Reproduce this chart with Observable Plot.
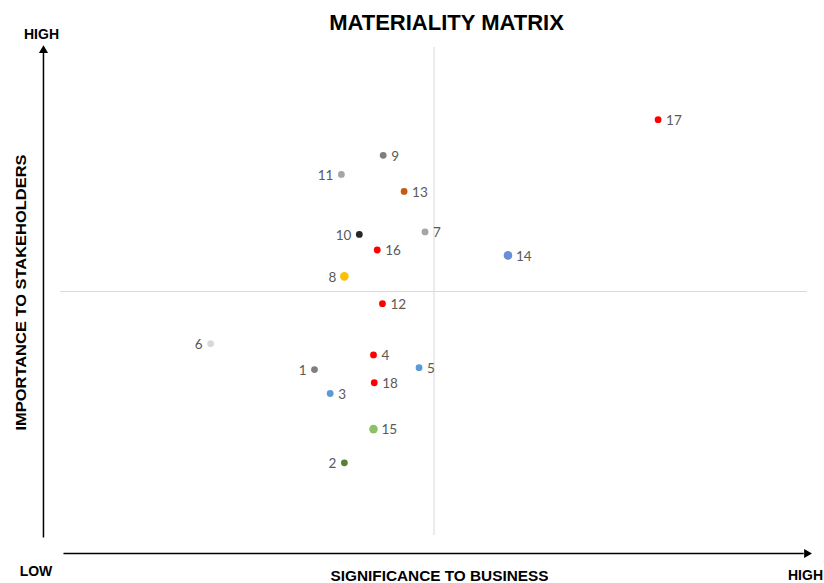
<!DOCTYPE html>
<html><head><meta charset="utf-8">
<script src="https://cdn.jsdelivr.net/npm/d3@7"></script>
<script src="https://cdn.jsdelivr.net/npm/@observablehq/plot@0.6"></script>
<style>body{margin:0;background:#fff}</style>
</head><body><div id="chart"></div>
<script>
// Issue ids
const ids = [1,2,3,4,5,6,7,8,9,10,11,12,13,14,15,16,17,18];
// Significance to business (x, 0–10)
const significance = [3.40,3.80,3.61,4.19,4.80,2.01,4.88,3.80,4.32,4.00,3.76,4.31,4.60,5.99,4.19,4.24,8.00,4.20];
// Importance to stakeholders (y, 0–10)
const importance = [3.40,1.49,2.91,3.70,3.44,3.93,6.22,5.31,7.79,6.17,7.40,4.75,7.05,5.74,2.18,5.85,8.52,3.13];
// Point colours
const colors = ["#7f7f7f","#548235","#5b9bd5","#ff0000","#5b9bd5","#d9d9d9","#a5a5a5","#ffc000","#7f7f7f","#262626","#a5a5a5","#ff0000","#c55a11","#6a8ed6","#8cc168","#ff0000","#ff0000","#ff0000"];
// Which side of the point the label sits on
const labelSides = ["L","L","R","R","R","L","R","L","R","L","L","R","R","R","R","R","R","R"];
const largeMarkers = [8,14,15];

const title = "MATERIALITY MATRIX";
const xTitle = "SIGNIFICANCE TO BUSINESS";
const yTitle = "IMPORTANCE TO STAKEHOLDERS";
const lowLabel = "LOW";
const highLabel = "HIGH";
const domain = [0, 10];
const midpoint = 5;

const data = ids.map((id, i) => ({
  id, x: significance[i], y: importance[i], color: colors[i],
  side: labelSides[i], r: largeMarkers.includes(id) ? 4.3 : 3.4
}));

const bold = {fontFamily: "Liberation Sans, Arial, sans-serif", fontWeight: "bold", fill: "#000",
  textAnchor: "middle", lineAnchor: "middle"};
const lo = domain[0], hi = domain[1];
const yArrowX = lo - 0.228, xArrowY = lo - 0.369;
const labelFont = {fontFamily: "Lato, Carlito, sans-serif", fontSize: 13.5, fill: "#595959", dy: 1};

const chart = Plot.plot({
  width: 824, height: 583,
  marginLeft: 60, marginRight: 17, marginTop: 47, marginBottom: 48,
  x: {domain, axis: null},
  y: {domain, axis: null},
  r: {type: "identity"},
  style: {background: "#fff", overflow: "visible"},
  marks: [
    Plot.ruleX([midpoint], {y1: lo, y2: hi, stroke: "#d9d9d9", strokeWidth: 1}),
    Plot.ruleY([midpoint], {x1: lo, x2: hi, stroke: "#d9d9d9", strokeWidth: 1}),
    // axis arrows
    Plot.link([0], {x1: yArrowX, x2: yArrowX, y1: lo - 0.04, y2: hi - 0.1, stroke: "#000", strokeWidth: 1.5}),
    Plot.dot([0], {x: yArrowX, y: hi - 0.06, symbol: "triangle", r: 3.4, fill: "#000", stroke: "none"}),
    Plot.link([0], {x1: lo + 0.04, x2: hi - 0.05, y1: xArrowY, y2: xArrowY, stroke: "#000", strokeWidth: 1.5}),
    Plot.dot([0], {x: hi - 0.01, y: xArrowY, symbol: "triangle", r: 3.4, rotate: 90, fill: "#000", stroke: "none"}),
    // data points
    Plot.dot(data, {x: "x", y: "y", r: "r", fill: "color", stroke: "none"}),
    Plot.text(data.filter(d => d.side === "R"), {x: "x", y: "y", text: "id", textAnchor: "start", dx: 8, ...labelFont}),
    Plot.text(data.filter(d => d.side === "L"), {x: "x", y: "y", text: "id", textAnchor: "end", dx: -8, ...labelFont}),
    // titles & labels
    Plot.text([title], {text: d => d, frameAnchor: "top", ...bold, dx: 12.5, dy: -24.5, fontSize: 22}),
    Plot.text([highLabel], {text: d => d, frameAnchor: "top-left", ...bold, dx: -19, dy: -13, fontSize: 14}),
    Plot.text([lowLabel], {text: d => d, frameAnchor: "bottom-left", ...bold, dx: -24.5, dy: 36, fontSize: 14}),
    Plot.text([highLabel], {text: d => d, frameAnchor: "bottom-right", ...bold, dx: -2, dy: 40, fontSize: 14}),
    Plot.text([xTitle], {text: d => d, frameAnchor: "bottom", ...bold, dx: 5.5, dy: 41, fontSize: 14, className: "xtitle"}),
    Plot.text([yTitle], {text: d => d, frameAnchor: "left", ...bold, dx: -39, dy: 1, rotate: -90, fontSize: 14.5, className: "ytitle"})
  ]
});
d3.select(chart).select(".xtitle text").attr("textLength", 218).attr("lengthAdjust", "spacingAndGlyphs");
d3.select(chart).select(".ytitle text").attr("textLength", 276).attr("lengthAdjust", "spacingAndGlyphs");
document.getElementById("chart").append(chart);
</script>
</body></html>
